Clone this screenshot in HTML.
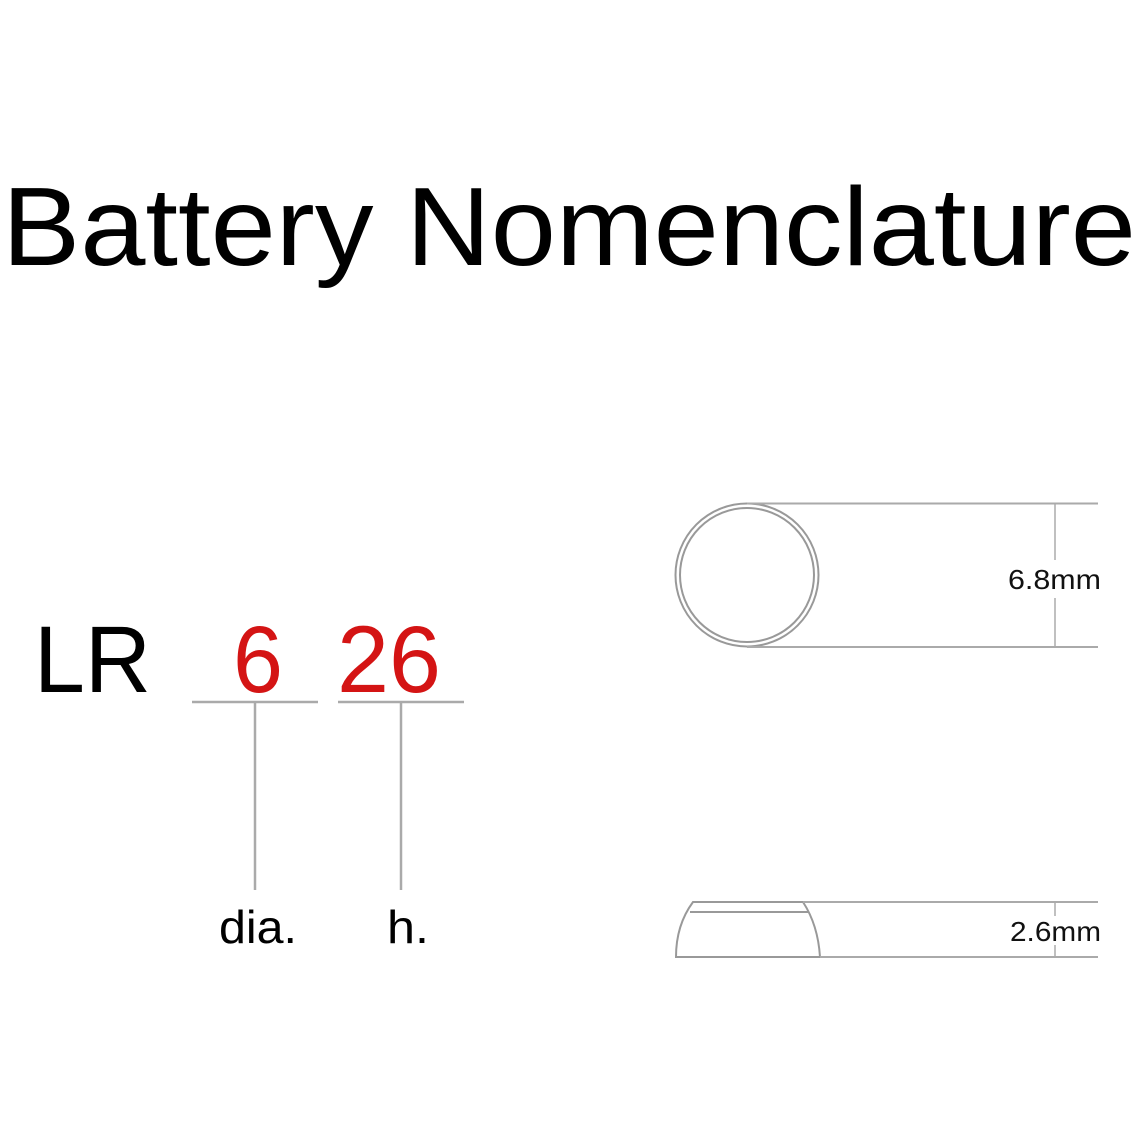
<!DOCTYPE html>
<html><head><meta charset="utf-8"><style>
html,body{margin:0;padding:0;background:#fff;}
svg{display:block;}
text{font-family:"Liberation Sans",Arial,sans-serif;}
</style></head><body>
<svg width="1140" height="1140" viewBox="0 0 1140 1140" xmlns="http://www.w3.org/2000/svg">
<rect width="1140" height="1140" fill="#fff"/>
<text x="2" y="265" font-size="111" fill="#000" textLength="1134" lengthAdjust="spacingAndGlyphs">Battery Nomenclature</text>

<text x="34" y="692" font-size="95" fill="#000" textLength="117" lengthAdjust="spacingAndGlyphs">LR</text>
<text x="233" y="692" font-size="95" fill="#d41414" textLength="50" lengthAdjust="spacingAndGlyphs">6</text>
<text x="337" y="692" font-size="95" fill="#d41414" textLength="104" lengthAdjust="spacingAndGlyphs">26</text>
<g stroke="#aaa" stroke-width="2.5" fill="none">
<line x1="192" y1="702" x2="318" y2="702"/>
<line x1="338" y1="702" x2="464" y2="702"/>
<line x1="255" y1="702" x2="255" y2="890"/>
<line x1="401" y1="702" x2="401" y2="890"/>
</g>
<text x="219" y="943" font-size="46" fill="#000" textLength="78" lengthAdjust="spacingAndGlyphs">dia.</text>
<text x="387" y="943" font-size="46" fill="#000" textLength="42" lengthAdjust="spacingAndGlyphs">h.</text>

<g stroke="#999" stroke-width="2" fill="none">
<circle cx="747" cy="575" r="71.5"/>
<circle cx="747" cy="575" r="67"/>
<line x1="747" y1="503.5" x2="1098" y2="503.5" stroke="#aaa"/>
<line x1="747" y1="647" x2="1098" y2="647" stroke="#aaa"/>
<line x1="1055" y1="504" x2="1055" y2="560" stroke="#aaa" stroke-width="1.5"/>
<line x1="1055" y1="598" x2="1055" y2="647" stroke="#aaa" stroke-width="1.5"/>
</g>
<text x="1008" y="589" font-size="28" fill="#111" textLength="93" lengthAdjust="spacingAndGlyphs">6.8mm</text>

<g stroke="#999" stroke-width="2" fill="none">
<path d="M693 902 L803 902 Q818 925 820 957 L676 957 Q676 925 693 902 Z"/>
<line x1="690" y1="912" x2="808" y2="912"/>
<line x1="803" y1="902" x2="1098" y2="902" stroke="#aaa"/>
<line x1="820" y1="957" x2="1098" y2="957" stroke="#aaa"/>
<line x1="1055" y1="902" x2="1055" y2="916" stroke="#aaa" stroke-width="1.5"/>
<line x1="1055" y1="945" x2="1055" y2="957" stroke="#aaa" stroke-width="1.5"/>
</g>
<text x="1010" y="941" font-size="28" fill="#111" textLength="91" lengthAdjust="spacingAndGlyphs">2.6mm</text>
</svg>
</body></html>
